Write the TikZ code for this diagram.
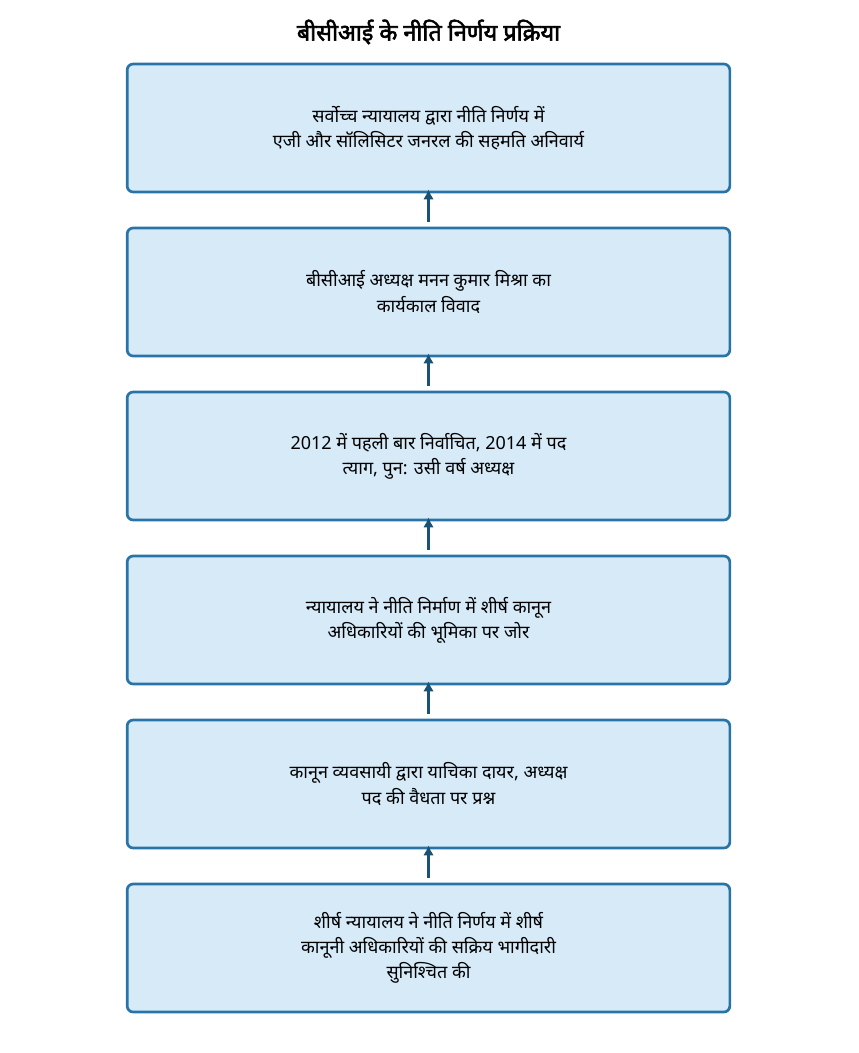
\documentclass[tikz,border=0pt]{standalone}
\usepackage{fontspec}
\setmainfont[Script=Devanagari]{Noto Sans}
\newfontfamily\titlefont[Script=Devanagari,FakeBold=2.5]{Noto Sans}
\usetikzlibrary{arrows.meta}

\definecolor{stagefill}{HTML}{D6EAF8}
\definecolor{stageline}{HTML}{2874A6}
\definecolor{flowline}{HTML}{1A5276}

\def\gap{164}
\def\top{128}

\tikzset{
  stage/.style={draw=stageline, fill=stagefill, line width=2pt, rounded corners=4.5pt,
    minimum width=452pt, minimum height=96pt, inner sep=0pt, align=center,
    font=\fontsize{13.5}{18.8}\selectfont},
  flow/.style={draw=flowline, line width=2pt, -{Latex[length=7.5pt,width=8pt]}}
}

\begin{document}
\begin{tikzpicture}[x=0.75pt, y=-0.75pt]
  \useasboundingbox (0,0) rectangle (858,1053);

  \node (title) at (428.5, 32) {\titlefont\fontsize{17.5}{21}\selectfont बीसीआई के नीति निर्णय प्रक्रिया};

  \foreach \i/\txt in {
    1/{सर्वोच्च न्यायालय द्वारा नीति निर्णय में\\एजी और सॉलिसिटर जनरल की सहमति अनिवार्य},
    2/{बीसीआई अध्यक्ष मनन कुमार मिश्रा का\\कार्यकाल विवाद},
    3/{2012 में पहली बार निर्वाचित, 2014 में पद\\त्याग, पुन: उसी वर्ष अध्यक्ष},
    4/{न्यायालय ने नीति निर्माण में शीर्ष कानून\\अधिकारियों की भूमिका पर जोर},
    5/{कानून व्यवसायी द्वारा याचिका दायर, अध्यक्ष\\पद की वैधता पर प्रश्न},
    6/{शीर्ष न्यायालय ने नीति निर्णय में शीर्ष\\कानूनी अधिकारियों की सक्रिय भागीदारी\\सुनिश्चित की}}{
    \pgfmathparse{\top+(\i-1)*\gap}
    \let\ypos\pgfmathresult
    \node[stage] (box\i) at (428.5, \ypos) {\txt};
  }

  % each stage points up to the one before it
  \foreach \i in {1,...,5}{
    \pgfmathparse{int(\i+1)}
    \let\nxt\pgfmathresult
    \draw[flow] ([yshift=3.75pt]box\nxt.north) -- ([yshift=3pt]box\i.south);
  }

\end{tikzpicture}
\end{document}
